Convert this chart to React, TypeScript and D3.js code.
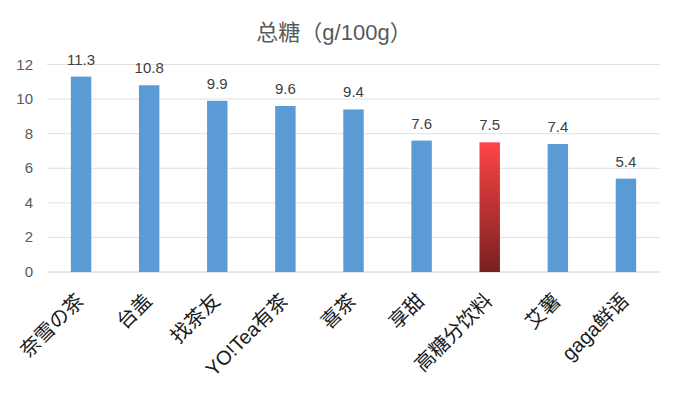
import React, { useEffect, useRef } from 'react';
import * as d3 from 'd3';

const categories = ['奈雪の茶', '台盖', '找茶友', 'YO!Tea有茶', '喜茶', '享甜', '高糖分饮料', '艾薯', 'gaga鲜语'];
const sugarValues = [11.3, 10.8, 9.9, 9.6, 9.4, 7.6, 7.5, 7.4, 5.4];
const yTicks = [0, 2, 4, 6, 8, 10, 12];
const highlight = '高糖分饮料';

const App = () => {
  const svgRef = useRef<SVGSVGElement>(null);

  useEffect(() => {
    const W = 680, H = 397;
    const left = 47, right = 660, top = 64.5, bottom = 272;

    const svg = d3.select(svgRef.current);
    svg.selectAll('*').remove();
    svg.attr('width', W).attr('height', H);

    const font = '"Liberation Sans", "Noto Sans CJK SC", sans-serif';

    // gradient for the highlighted bar
    const grad = svg.append('defs').append('linearGradient')
      .attr('id', 'redGrad')
      .attr('x1', 0).attr('y1', 0).attr('x2', 0).attr('y2', 1);
    grad.append('stop').attr('offset', '0%').attr('stop-color', '#ff4545');
    grad.append('stop').attr('offset', '100%').attr('stop-color', '#781f21');

    const x = d3.scaleBand()
      .domain(categories)
      .range([left, right])
      .paddingInner(0.7)
      .paddingOuter(0.35);

    const y = d3.scaleLinear()
      .domain([0, 12])
      .range([bottom, top]);

    // gridlines
    svg.append('g')
      .selectAll('line')
      .data(yTicks)
      .enter()
      .append('line')
        .attr('x1', left)
        .attr('x2', right)
        .attr('y1', d => y(d))
        .attr('y2', d => y(d))
        .attr('stroke', d => d === 0 ? '#d0d0d0' : '#e0e0e0')
        .attr('stroke-width', 1);

    // y tick labels
    svg.append('g')
      .selectAll('text')
      .data(yTicks)
      .enter()
      .append('text')
        .attr('x', 33)
        .attr('y', d => y(d) + 5)
        .attr('text-anchor', 'end')
        .style('font-family', font)
        .style('font-size', '15px')
        .style('fill', '#595959')
        .text(d => d);

    // bars
    const data = categories.map((c, i) => ({ name: c, value: sugarValues[i] }));
    svg.append('g')
      .selectAll('rect')
      .data(data)
      .enter()
      .append('rect')
        .attr('x', d => x(d.name)!)
        .attr('y', d => y(d.value))
        .attr('width', x.bandwidth())
        .attr('height', d => bottom - y(d.value))
        .attr('fill', d => d.name === highlight ? 'url(#redGrad)' : '#5b9bd5');

    // value labels
    svg.append('g')
      .selectAll('text')
      .data(data)
      .enter()
      .append('text')
        .attr('x', d => x(d.name)! + x.bandwidth() / 2)
        .attr('y', d => y(d.value) - 12)
        .attr('text-anchor', 'middle')
        .style('font-family', font)
        .style('font-size', '15px')
        .style('fill', '#404040')
        .text(d => d.value.toFixed(1));

    // category labels
    svg.append('g')
      .selectAll('text')
      .data(categories)
      .enter()
      .append('text')
        .attr('transform', d => `translate(${x(d)! + x.bandwidth() / 2 + 4},${bottom + 30}) rotate(-45)`)
        .attr('text-anchor', 'end')
        .style('font-family', font)
        .style('font-size', '20px')
        .style('fill', '#1a1a1a')
        .text(d => d);

    // title
    svg.append('text')
      .attr('x', 334)
      .attr('y', 40)
      .attr('text-anchor', 'middle')
      .style('font-family', font)
      .style('font-size', '22px')
      .style('fill', '#595959')
      .text('总糖（g/100g）');
  }, []);

  return (
    <svg ref={svgRef} style={{ position: 'absolute', left: 0, top: 0, background: '#fff' }}></svg>
  );
};

export default App;
